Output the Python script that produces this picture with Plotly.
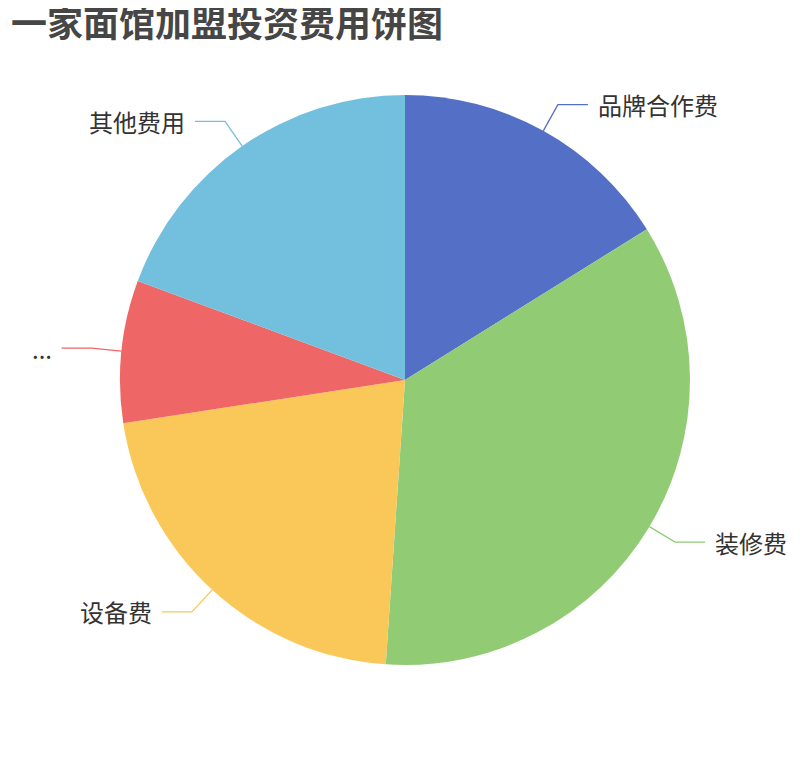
import math
import plotly.graph_objects as go

# ---- data ----
categories = ['品牌合作费', '装修费', '设备费', '...', '其他费用']
values = [3, 6.5, 4, 1.5, 3.6]
colors = ['#5470c6', '#91cc75', '#fac858', '#ee6666', '#73c0de']
title_text = '一家面馆加盟投资费用饼图'

W, H = 810, 760
OFF = 8  # page body margin
CX, CY, R = 405, 380, 285
LEN1, LEN2, GAP = 30, 30, 8

def px_to_paper(x, y):
    return (x - OFF) / W, 1 - (y - OFF) / H

fig = go.Figure()
dx0, dy0 = px_to_paper(CX - R, CY + R)
dx1, dy1 = px_to_paper(CX + R, CY - R)
fig.add_trace(go.Pie(
    labels=categories, values=values, sort=False, direction='clockwise',
    rotation=0, marker=dict(colors=colors, line=dict(width=0)),
    textinfo='none', hoverinfo='label+value+percent', showlegend=False,
    domain=dict(x=[dx0, dx1], y=[dy0, dy1]),
))

total = sum(values)
cum = 0.0
shapes, annotations = [], []
for name, v, c in zip(categories, values, colors):
    mid = (cum + v / 2) / total * 2 * math.pi
    cum += v
    dx, dy = math.sin(mid), -math.cos(mid)
    x0, y0 = CX + R * dx, CY + R * dy
    x1, y1 = CX + (R + LEN1) * dx, CY + (R + LEN1) * dy
    side = 1 if dx >= 0 else -1
    x2 = x1 + side * LEN2
    p0, p1, p2 = px_to_paper(x0, y0), px_to_paper(x1, y1), px_to_paper(x2, y1)
    shapes.append(dict(type='path', xref='paper', yref='paper',
                       path=f'M {p0[0]} {p0[1]} L {p1[0]} {p1[1]} L {p2[0]} {p2[1]}',
                       line=dict(color=c, width=1.3)))
    tx, ty = px_to_paper(x2 + side * GAP, y1)
    annotations.append(dict(x=tx, y=ty, xref='paper', yref='paper', text=name,
                            showarrow=False, xanchor='left' if side > 0 else 'right',
                            yanchor='middle', font=dict(size=24, color='#333333')))

tx, ty = px_to_paper(10, 21)
annotations.append(dict(x=tx, y=ty, xref='paper', yref='paper', text=f'<b>{title_text}</b>',
                        showarrow=False, xanchor='left', yanchor='middle', borderpad=0,
                        font=dict(size=36, color='#464646')))

fig.update_layout(
    width=W, height=H, margin=dict(l=0, r=0, t=0, b=0),
    paper_bgcolor='white', plot_bgcolor='white',
    font=dict(family='Noto Sans CJK SC, sans-serif', color='#333333'),
    shapes=shapes, annotations=annotations,
)
fig.write_html('out.html')
